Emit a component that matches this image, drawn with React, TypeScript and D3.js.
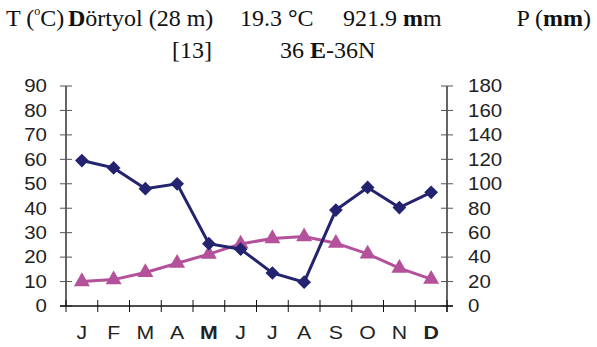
import React from "react";
import * as d3 from "d3";

const months = ["J", "F", "M", "A", "M", "J", "J", "A", "S", "O", "N", "D"];
const boldMonths = [false, false, false, false, true, false, false, false, false, false, false, true];
const temperature = [10, 10.8, 13.7, 17.5, 21.2, 25.4, 27.6, 28.4, 25.7, 21.3, 15.5, 11];
const precipitation = [119, 113, 96, 100, 51, 46.5, 27, 19.5, 78.5, 97, 80.5, 93];
const leftTicks = [0, 10, 20, 30, 40, 50, 60, 70, 80, 90];
const rightTicks = [0, 20, 40, 60, 80, 100, 120, 140, 160, 180];

const W = 597;
const H = 347;
const X0 = 66;
const X1 = 447;
const Y0 = 306;
const Y1 = 86;

const NAVY = "#23236f";
const PINK = "#b3519a";
const TXT = "#222";

export default function App() {
  const x = d3.scaleBand<number>().domain(d3.range(12)).range([X0, X1]).padding(0);
  const yL = d3.scaleLinear().domain([0, 90]).range([Y0, Y1]);
  const yR = d3.scaleLinear().domain([0, 180]).range([Y0, Y1]);
  const cx = (i: number) => (x(i) as number) + x.bandwidth() / 2;

  const tLine = d3.line<number>().x((_, i) => cx(i)).y((d) => yL(d))(temperature) || "";
  const pLine = d3.line<number>().x((_, i) => cx(i)).y((d) => yR(d))(precipitation) || "";
  const diamond = d3.symbol().type(d3.symbolDiamond2).size(120)() || "";
  const tri = d3.symbol().type(d3.symbolTriangle).size(110)() || "";

  const serif = "'Liberation Serif', 'Times New Roman', serif";
  const sans = "'Liberation Sans', Arial, sans-serif";
  const edges = d3.range(13).map((i) => X0 + i * x.bandwidth());

  return (
    <svg width={W} height={H} style={{ position: "absolute", left: 0, top: 0, background: "#fff" }}>
      <g fontFamily={serif} fontSize={24} fill="#111">
        <text x={6} y={26}>
          T (<tspan dy={-11} fontSize={12}>o</tspan>
          <tspan dy={11}>C)</tspan>
        </text>
        <text x={68} y={26}>
          <tspan fontWeight="bold">D</tspan>örtyol (28 m)
        </text>
        <text x={240} y={26}>
          19.3 <tspan fontWeight="bold">°</tspan>C
        </text>
        <text x={343} y={26}>
          921.9 <tspan fontWeight="bold">m</tspan>m
        </text>
        <text x={591} y={26} textAnchor="end">
          P (<tspan fontWeight="bold">mm</tspan>)
        </text>
        <text x={172} y={58}>[13]</text>
        <text x={280} y={58}>
          36 <tspan fontWeight="bold">E</tspan>-36N
        </text>
      </g>

      {/* left axis */}
      <line x1={X0} x2={X0} y1={Y1} y2={Y0} stroke="#111" strokeWidth={1.3} />
      {leftTicks.map((t) => (
        <g key={"l" + t}>
          <line x1={X0 - 6} x2={X0 + 6} y1={yL(t)} y2={yL(t)} stroke="#555" strokeWidth={1} />
          <text
            transform={`translate(47,${yL(t)}) scale(1.17,1)`}
            dy="0.36em"
            textAnchor="end"
            fontFamily={sans}
            fontSize={17.5}
            fill={TXT}
          >
            {t}
          </text>
        </g>
      ))}
      {/* right axis */}
      <line x1={X1} x2={X1} y1={Y1} y2={Y0 + 6} stroke="#111" strokeWidth={1.3} />
      {rightTicks.map((t) => (
        <g key={"r" + t}>
          <line x1={X1 - 6} x2={X1 + 6} y1={yR(t)} y2={yR(t)} stroke="#555" strokeWidth={1} />
          <text
            transform={`translate(468,${yR(t)}) scale(1.17,1)`}
            dy="0.36em"
            textAnchor="start"
            fontFamily={sans}
            fontSize={17.5}
            fill={TXT}
          >
            {t}
          </text>
        </g>
      ))}
      {/* x axis */}
      <line x1={X0 - 6} x2={X1 + 6} y1={Y0} y2={Y0} stroke="#111" strokeWidth={1.3} />
      {edges.map((e, i) => (
        <line key={"x" + i} x1={e} x2={e} y1={Y0 - 6} y2={Y0 + 6} stroke="#111" strokeWidth={1} />
      ))}
      {months.map((m, i) => (
        <text
          key={"m" + i}
          transform={`translate(${cx(i)},339) scale(1.12,1)`}
          textAnchor="middle"
          fontFamily={sans}
          fontSize={19}
          fontWeight={boldMonths[i] ? "bold" : "normal"}
          fill={TXT}
        >
          {m}
        </text>
      ))}

      {/* temperature */}
      <path d={tLine} fill="none" stroke={PINK} strokeWidth={3} />
      {temperature.map((d, i) => (
        <path key={"t" + i} d={tri} transform={`translate(${cx(i)},${yL(d)})`} fill={PINK} />
      ))}
      {/* precipitation */}
      <path d={pLine} fill="none" stroke={NAVY} strokeWidth={3} />
      {precipitation.map((d, i) => (
        <path key={"p" + i} d={diamond} transform={`translate(${cx(i)},${yR(d)})`} fill={NAVY} />
      ))}
    </svg>
  );
}
